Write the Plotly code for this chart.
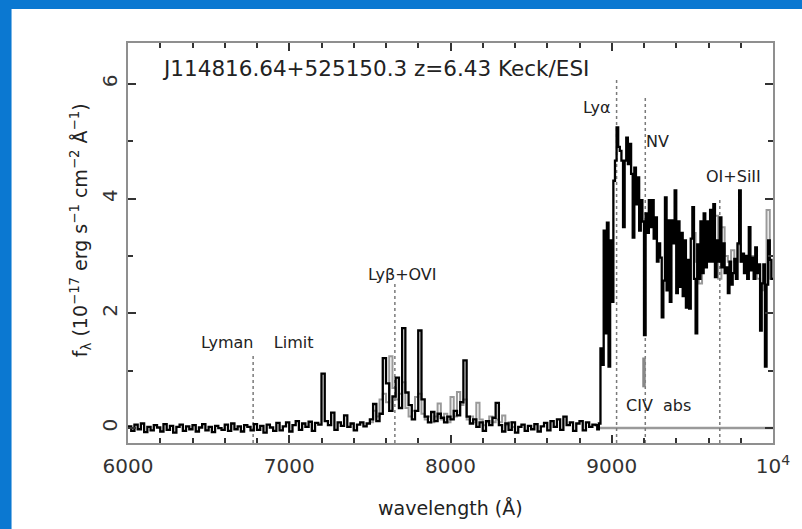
import numpy as np
import plotly.graph_objects as go

# ---------------- data ----------------
# black spectrum, 6000-8880 A (20 A bins, left edges)
blue_start, blue_bin = 6000, 20
flux_blue = [
    0.03, -0.05, 0.06, -0.02, 0.08, -0.07, 0.02, -0.04, 0.05, 0.01,
    -0.06, 0.07, -0.03, 0.04, -0.08, 0.02, 0.06, -0.05, 0.03, -0.02,
    0.05, -0.06, 0.01, 0.07, -0.04, 0.02, -0.07, 0.04, 0.00, -0.03,
    0.06, -0.05, 0.08, -0.02, 0.03, -0.06, 0.05, 0.02, -0.04, 0.07,
    -0.03, 0.04, -0.08, 0.06, 0.01, -0.05, 0.09, -0.04, 0.03, 0.10,
    -0.06, 0.05, 0.12, -0.03, 0.08, 0.02, 0.11, -0.05, 0.09, 0.06,
    0.95, 0.12, 0.05, 0.27, -0.03, 0.10, 0.04, 0.22, 0.02, 0.08,
    -0.04, 0.06, 0.10, 0.03, 0.08, 0.15, 0.42, 0.12, 0.25, 1.22,
    0.78, 0.30, 0.55, 0.88, 0.35, 1.74, 0.62, 0.40, 0.15, 0.30,
    1.70, 0.50, 0.20, 0.10, 0.28, 0.12, 0.25, 0.18, 0.10, 0.20,
    0.15, 0.30, 0.22, 0.45, 1.18, 0.20, 0.08, 0.15, 0.02, 0.10,
    -0.05, 0.12, 0.05, 0.18, 0.44,
    0.05, -0.06, 0.08, -0.03, 0.10, -0.08, 0.02, 0.06, -0.05, 0.04,
    -0.02, 0.07, -0.06, 0.03, 0.09, -0.04, 0.12, 0.02, 0.15, -0.03,
    0.20, 0.05, 0.10, -0.05, 0.08, 0.12, -0.04, 0.10, 0.02, 0.06,
]
# black spectrum, 8900-9990 A (10 A bins, left edges)
red_start, red_bin = 8900, 10
flux_red = [
    0.05, -0.02, 0.08, 1.39, 1.10, 3.44, 1.65, 3.58, 1.07, 3.27,
    2.20, 4.31, 4.66, 5.24, 4.90, 4.83, 4.66, 3.50, 4.66, 5.06,
    4.60, 4.95, 4.43, 3.32, 4.54, 3.90, 4.37, 3.44, 3.97, 3.60,
    1.62, 3.74, 3.40, 3.97, 3.50, 3.97, 3.30, 3.67, 2.90, 3.22,
    2.97, 1.93, 2.57, 4.02, 2.40, 3.62, 2.20, 3.62, 3.22, 4.14,
    2.35, 3.60, 2.46, 3.40, 2.30, 3.27, 2.10, 2.93, 2.08, 3.30,
    3.85, 2.60, 1.65, 3.20, 2.60, 3.60, 2.70, 3.74, 2.80, 3.60,
    2.90, 3.80, 2.90, 3.90, 2.63, 3.27, 2.90, 3.67, 2.80, 3.22,
    2.70, 2.80, 2.35, 2.90, 2.50, 2.70, 2.95, 2.60, 3.22, 4.14,
    2.90, 3.04, 2.70, 3.00, 2.60, 3.50, 2.75, 2.97, 2.60, 3.15,
    2.70, 2.85, 1.70, 2.52, 2.85, 1.07, 2.50, 3.27, 2.93, 2.60,
]
wl_end = 10000

# grey (second) spectrum segments, 20 A bins
grey_bin = 20
grey1_start = 7500
grey1_flux = [
    0.10, 0.30, 0.20, 0.50, 0.60, 0.45, 1.25, 0.70, 0.50, 0.60,
    0.80, 0.35, 0.20, 0.30, 0.54, 0.60, 0.25, 0.15, 0.20, 0.10,
    0.20, 0.43, 0.15, 0.25, 0.10, 0.54, 0.20, 0.63, 0.40, 0.50,
    0.15, 0.20, 0.10, 0.44, 0.15, 0.05, 0.10, 0.20, 0.10, 0.15,
    0.10, 0.22, 0.05, 0.10, 0.02,
]
grey2_start = 9500
grey2_flux = [
    3.40, 2.90, 2.52, 3.10, 3.30, 3.50, 3.20, 3.70, 2.60, 3.50,
    3.00, 2.90, 3.10, 2.90, 3.20, 2.90, 3.00, 2.80, 3.00, 2.90,
    2.60, 2.40, 2.50, 3.80, 2.60,
]
zero_ref_range = [8920, 10000]

# emission line markers
line_names = ["Lyman\u00a0\u00a0\u00a0\u00a0Limit", "Ly\u03b2+OVI", "Ly\u03b1", "NV", "OI+SiII"]
line_wl = [6776, 7655, 9030, 9208, 9670]
line_top = [1.27, 2.52, 6.09, 5.79, 4.00]
label_wl = [6800, 7705, 8905, 9285, 9755]
label_y = [1.50, 2.68, 5.58, 5.00, 4.38]

civ_wl = 9200
civ_range = [0.71, 1.23]
civ_label = "CIV\u00a0\u00a0abs"
civ_label_pos = [9292, 0.40]

title_text = "J114816.64+525150.3 z=6.43 Keck/ESI"
x_ticks = [6000, 7000, 8000, 9000, 10000]
x_ticktext = ["6000", "7000", "8000", "9000", "10<sup>4</sup>"]
y_ticks = [0, 2, 4, 6]
x_range = [6000, 10000]
y_range = [-0.26, 6.71]

# ---------------- figure ----------------
W, H = 802, 529
L, R, T, B = 128, 26, 43, 86
PW, PH = W - L - R, H - T - B
font = "DejaVu Sans"
blue = "#0b78d1"
txt = "#222222"


def px_to_paper_x(px):
    return (px - L) / PW


def px_to_paper_y(py):
    return (H - B - py) / PH


def steps(start, binw, vals):
    x = start + binw * np.arange(len(vals) + 1)
    y = list(vals) + [vals[-1]]
    return x, y


fig = go.Figure()

# grey spectrum
for st, vals in [(grey1_start, grey1_flux), (grey2_start, grey2_flux)]:
    gx, gy = steps(st, grey_bin, vals)
    fig.add_trace(go.Scatter(x=gx, y=gy, mode="lines", line=dict(color="#9a9a9a", width=2, shape="hv"),
                             hoverinfo="skip", showlegend=False))

# zero reference
fig.add_trace(go.Scatter(x=zero_ref_range, y=[0, 0], mode="lines",
                         line=dict(color="#9a9a9a", width=2.5), showlegend=False, hoverinfo="skip"))

# dotted line markers
for w, top in zip(line_wl, line_top):
    fig.add_trace(go.Scatter(x=[w, w], y=[y_range[0], top], mode="lines",
                             line=dict(color="#7a7a7a", width=1.5, dash="dot"),
                             showlegend=False, hoverinfo="skip"))

# black spectrum
bx = np.concatenate([blue_start + blue_bin * np.arange(len(flux_blue)),
                     red_start + red_bin * np.arange(len(flux_red)), [wl_end]])
by = flux_blue + flux_red + [flux_red[-1]]
fig.add_trace(go.Scatter(x=bx, y=by, mode="lines", line=dict(color="#000000", width=2.3, shape="hv"),
                         showlegend=False))

# CIV absorption marker
fig.add_trace(go.Scatter(x=[civ_wl, civ_wl], y=civ_range, mode="lines",
                         line=dict(color="#888888", width=3.5), showlegend=False, hoverinfo="skip"))

annots = []
for name, lx, ly in zip(line_names, label_wl, label_y):
    annots.append(dict(x=lx, y=ly, xref="x", yref="y", text=name, showarrow=False,
                       xanchor="center", yanchor="middle",
                       font=dict(family=font, size=16, color=txt)))
annots.append(dict(x=civ_label_pos[0], y=civ_label_pos[1], xref="x", yref="y", text=civ_label,
                   showarrow=False, xanchor="center", yanchor="middle",
                   font=dict(family=font, size=16, color=txt)))
annots.append(dict(x=px_to_paper_x(160), y=px_to_paper_y(68), xref="paper", yref="paper",
                   xanchor="left", yanchor="middle", text=title_text, showarrow=False,
                   font=dict(family=font, size=21.5, color=txt)))
annots.append(dict(x=px_to_paper_x(80), y=px_to_paper_y(230), xref="paper", yref="paper",
                   xanchor="center", yanchor="middle",
                   text="f<sub>\u03bb</sub> (10<sup>\u221217</sup> erg s<sup>\u22121</sup> cm<sup>\u22122</sup> \u00c5<sup>\u22121</sup>)",
                   textangle=-90, showarrow=False, font=dict(family=font, size=19, color=txt)))
annots.append(dict(x=0.5, y=px_to_paper_y(508), xref="paper", yref="paper",
                   xanchor="center", yanchor="middle",
                   text="wavelength (\u00c5)", showarrow=False,
                   font=dict(family=font, size=19, color=txt)))

shapes = [dict(type="rect", xref="paper", yref="paper", layer="below",
               x0=px_to_paper_x(11), x1=px_to_paper_x(W + 20),
               y0=px_to_paper_y(H + 20), y1=px_to_paper_y(9),
               fillcolor="white", line=dict(width=0))]

axis_common = dict(showgrid=False, zeroline=False, showline=True, linecolor="#8f8f8f", linewidth=2,
                   mirror="ticks", ticks="inside", ticklen=8, tickwidth=1.5, tickcolor="#333333",
                   tickfont=dict(family=font, size=20, color="#333333"))

fig.update_layout(
    width=W, height=H, margin=dict(l=L, r=R, t=T, b=B),
    paper_bgcolor=blue, plot_bgcolor="white",
    shapes=shapes, annotations=annots,
    xaxis=dict(range=x_range, tickvals=x_ticks, ticktext=x_ticktext,
               minor=dict(dtick=200, ticks="inside", ticklen=5, tickwidth=1.5, tickcolor="#333333"),
               ticklabelstandoff=4, **axis_common),
    yaxis=dict(range=y_range, tickvals=y_ticks, tickangle=-90,
               minor=dict(dtick=1, ticks="inside", ticklen=5, tickwidth=1.5, tickcolor="#333333"),
               ticklabelstandoff=1, **axis_common),
)

fig.write_html("out.html")
